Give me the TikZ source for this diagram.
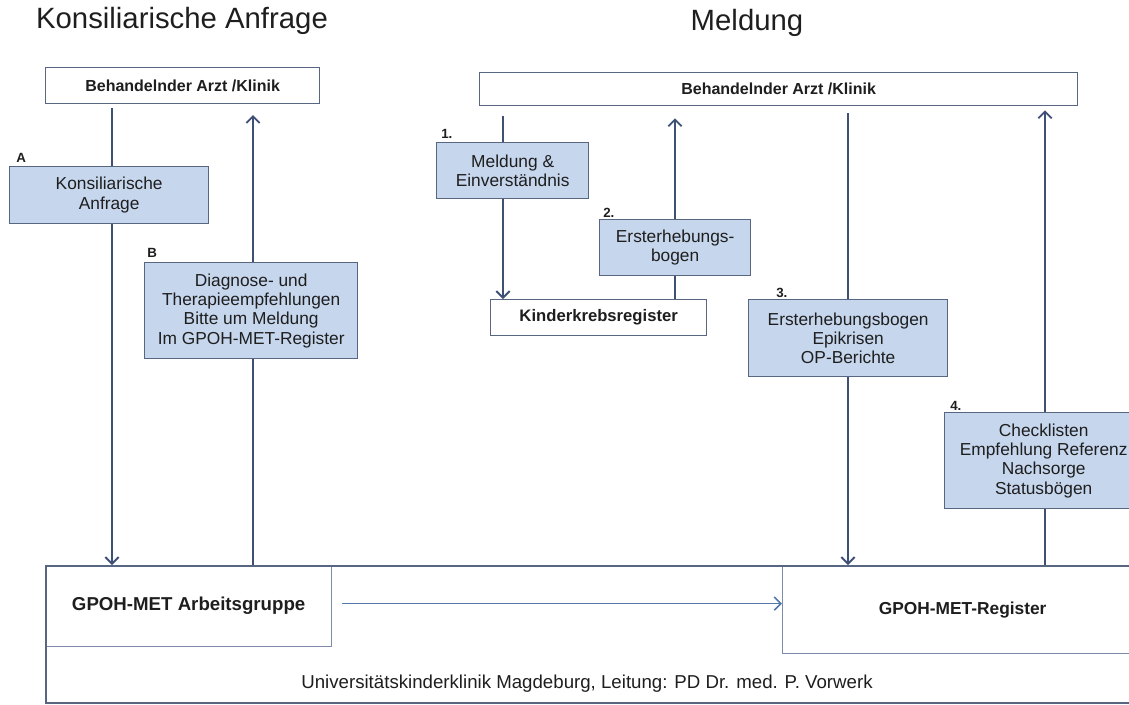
\documentclass[tikz,border=0pt]{standalone}
\usepackage{fontspec}
\setmainfont{Liberation Sans}
\usetikzlibrary{arrows.meta,backgrounds}
\definecolor{boxfill}{RGB}{198,214,237}
\definecolor{boxdraw}{RGB}{88,102,130}
\definecolor{arrcol}{RGB}{62,80,118}
\definecolor{arrlight}{RGB}{85,120,170}
\definecolor{innerdraw}{RGB}{125,140,170}
\definecolor{txt}{RGB}{30,30,30}
\def\u{0.75pt}
\begin{document}
\begin{tikzpicture}[x=0.75pt,y=-0.75pt,
  every node/.style={text=txt},
  whitebox/.style={draw=boxdraw,line width=1pt,fill=white,inner sep=0pt,anchor=north west,
    font=\bfseries\fontsize{12}{14}\selectfont},
  bluebox/.style={draw=boxdraw,line width=1pt,fill=boxfill,inner sep=0pt,anchor=north west,
    align=center,font=\fontsize{13}{14.5}\selectfont},
  innerbox/.style={draw=innerdraw,line width=1pt,fill=white,inner sep=0pt,anchor=north west,
    font=\bfseries\fontsize{14}{16}\selectfont},
  tag/.style={font=\bfseries\fontsize{10}{12}\selectfont,anchor=base west,inner sep=0pt},
  title/.style={font=\fontsize{22}{26}\selectfont,anchor=base,inner sep=0pt},
  conn/.style={draw=arrcol,line width=1.4pt},
  arr/.style={conn,-{Straight Barb[length=5pt,width=10pt]}},
]
\useasboundingbox (0,0) rectangle (1129,704);
\clip (0,0) rectangle (1129,704);

% titles
\node[title] (t1) at (182,28) {Konsiliarische Anfrage};
\node[title] (t2) at (747,30) {Meldung};

% left part
\node[whitebox,minimum width={274*\u},minimum height={36*\u}] (arztL) at (45,67) {Behandelnder Arzt /Klinik};
\node[bluebox,minimum width={199*\u},minimum height={57*\u}] (ka) at (9,166) {Konsiliarische\\Anfrage};
\node[tag] (tA) at (16,162) {A};
\node[bluebox,minimum width={213*\u},minimum height={96*\u}] (diag) at (144,262) {Diagnose- und\\Therapieempfehlungen\\Bitte um Meldung\\Im GPOH-MET-Register};
\node[tag] (tB) at (147,257) {B};

% right part
\node[whitebox,minimum width={598*\u},minimum height={33*\u}] (arztR) at (479,72) {Behandelnder Arzt /Klinik};
\node[bluebox,minimum width={152*\u},minimum height={56*\u}] (meld) at (436,142) {Meldung \&\\Einverständnis};
\node[tag] (t1n) at (441,138) {1.};
\node[whitebox,minimum width={216*\u},minimum height={36*\u},font=\bfseries\fontsize{12.5}{14}\selectfont] (kkr) at (490,299) {Kinderkrebsregister};
\node[bluebox,minimum width={151*\u},minimum height={56*\u}] (erst) at (599,219) {Ersterhebungs-\\bogen};
\node[tag] (t2n) at (603,217) {2.};
\node[bluebox,minimum width={199*\u},minimum height={77*\u}] (epi) at (748,299) {Ersterhebungsbogen\\Epikrisen\\OP-Berichte};
\node[tag] (t3n) at (776,297) {3.};
\node[bluebox,minimum width={198*\u},minimum height={96*\u}] (check) at (944,412) {Checklisten\\Empfehlung Referenz\\Nachsorge\\Statusbögen};
\node[tag] (t4n) at (950,410) {4.};

% bottom
\node[innerbox,minimum width={286*\u},minimum height={81*\u}] (ag) at (45,565) {GPOH-MET Arbeitsgruppe};
\node[innerbox,minimum width={360*\u},minimum height={88*\u},font=\bfseries\fontsize{13}{15}\selectfont] (reg) at (782,565) {GPOH-MET-Register};
\node[draw=boxdraw,line width=1.3pt,inner sep=0pt,anchor=north west,minimum width={1100*\u},minimum height={137*\u}] (big) at (45,565) {};
\node[font=\fontsize{14}{16}\selectfont,anchor=base] (uni) at (587,688) {Universitätskinderklinik Magdeburg, Leitung: PD Dr. med. P. Vorwerk};

% connector x positions
\coordinate (xa) at (112,0);
\coordinate (xb) at (253,0);
\coordinate (x1) at (503,0);
\coordinate (x2) at (675,0);
\coordinate (x3) at (848,0);
\coordinate (x4) at (1045,0);

\begin{pgfonlayer}{background}
\draw[arr,shorten <=3pt] (arztL.south -| xa) -- (big.north -| xa);
\draw[arr,shorten >=8pt] (big.north -| xb) -- (arztL.south -| xb);
\draw[arr,shorten <=7pt] (arztR.south -| x1) -- (kkr.north -| x1);
\draw[arr,shorten >=9pt] (kkr.north -| x2) -- (arztR.south -| x2);
\draw[arr,shorten <=5pt] (arztR.south -| x3) -- (reg.north -| x3);
\draw[arr,shorten >=3pt] (big.north -| x4) -- (arztR.south -| x4);
\end{pgfonlayer}
\draw[arr,draw=arrlight,line width=1.2pt,shorten <=7pt] ([yshift=2pt]ag.east) -- ([yshift=2pt]ag.east -| reg.west);
\end{tikzpicture}
\end{document}
